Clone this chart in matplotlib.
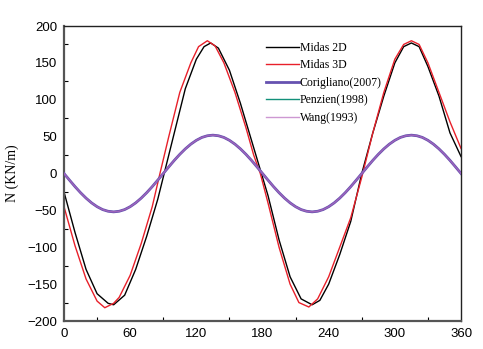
import matplotlib
matplotlib.use('Agg')
import matplotlib.pyplot as plt
from matplotlib.ticker import MultipleLocator

# Midas 2D (black)
theta_2d = [0, 10, 20, 30, 40, 45, 55, 65, 75, 85, 90, 100, 110, 120, 127, 133,
            140, 150, 160, 170, 178, 185, 195, 205, 215, 225, 232, 240, 250, 260,
            270, 280, 290, 300, 308, 315, 322, 330, 340, 350, 360]
midas_2d = [-25, -80, -130, -163, -176, -178, -165, -130, -85, -35, -5, 55, 115, 155,
            172, 177, 170, 140, 95, 45, 5, -30, -90, -140, -170, -178, -172, -150,
            -110, -65, 0, 55, 105, 150, 172, 177, 172, 145, 105, 55, 23]

# Midas 3D (red)
theta_3d = [0, 10, 20, 30, 37, 45, 50, 60, 70, 80, 87, 95, 105, 115, 122, 130, 137,
            145, 155, 165, 172, 178, 185, 195, 205, 213, 222, 230, 240, 250, 260,
            270, 280, 290, 300, 308, 315, 322, 330, 340, 350, 360]
midas_3d = [-45, -98, -143, -173, -182, -176, -168, -138, -95, -45, 0, 50, 110, 150,
            172, 180, 173, 150, 110, 62, 25, 0, -40, -100, -150, -175, -181, -170,
            -140, -100, -60, -5, 55, 110, 155, 175, 180, 175, 150, 110, 70, 34]

# theoretical solutions (nearly identical)
theta_th = list(range(0, 361, 5))
corigliano = [0, -9.0, -17.8, -26.0, -33.4, -39.8, -45.0, -48.9, -51.2, -52.0,
              -51.2, -48.9, -45.0, -39.8, -33.4, -26.0, -17.8, -9.0,
              0, 9.0, 17.8, 26.0, 33.4, 39.8, 45.0, 48.9, 51.2, 52.0,
              51.2, 48.9, 45.0, 39.8, 33.4, 26.0, 17.8, 9.0,
              0, -9.0, -17.8, -26.0, -33.4, -39.8, -45.0, -48.9, -51.2, -52.0,
              -51.2, -48.9, -45.0, -39.8, -33.4, -26.0, -17.8, -9.0,
              0, 9.0, 17.8, 26.0, 33.4, 39.8, 45.0, 48.9, 51.2, 52.0,
              51.2, 48.9, 45.0, 39.8, 33.4, 26.0, 17.8, 9.0, 0]
penzien = list(corigliano)
wang = list(corigliano)

fig = plt.figure(figsize=(4.83, 3.49), dpi=100)
ax = fig.add_axes([0.1325, 0.0802, 0.822, 0.8453])

ax.plot(theta_2d, midas_2d, color='black', lw=1.0, label='Midas 2D')
ax.plot(theta_3d, midas_3d, color='#e8202a', lw=1.0, label='Midas 3D')
ax.plot(theta_th, penzien, color='#12907a', lw=1.0, label='Penzien(1998)', zorder=2)
ax.plot(theta_th, corigliano, color='#6652b0', lw=2.0, label='Corigliano(2007)', zorder=3)
ax.plot(theta_th, wang, color='#b86cc0', lw=1.0, alpha=0.7, label='Wang(1993)', zorder=4)

ax.set_xlim(0, 360)
ax.set_ylim(-200, 200)
ax.xaxis.set_major_locator(MultipleLocator(60))
ax.xaxis.set_minor_locator(MultipleLocator(30))
ax.yaxis.set_major_locator(MultipleLocator(50))
ax.yaxis.set_minor_locator(MultipleLocator(25))
ax.tick_params(which='major', length=0, pad=5, labelsize=9.5)
ax.tick_params(which='minor', direction='in', length=3, width=0.8)
for lab in ax.get_xticklabels() + ax.get_yticklabels():
    lab.set_family('Liberation Sans')

for s in ['left', 'bottom']:
    ax.spines[s].set_color('#555555')
    ax.spines[s].set_linewidth(1.6)
for s in ['top', 'right']:
    ax.spines[s].set_color('#222222')
    ax.spines[s].set_linewidth(1.0)

ax.set_ylabel('N (KN/m)', family='Liberation Serif', fontsize=10, labelpad=6)

handles, labels = ax.get_legend_handles_labels()
order = [0, 1, 3, 2, 4]
ax.legend([handles[i] for i in order], [labels[i] for i in order],
          loc='upper left', bbox_to_anchor=(0.49, 0.97), frameon=False,
          prop={'family': 'Liberation Serif', 'size': 8.5},
          handlelength=2.8, handletextpad=0.1, labelspacing=0.46,
          borderaxespad=0.2)

fig.savefig('out.png', dpi=100)
